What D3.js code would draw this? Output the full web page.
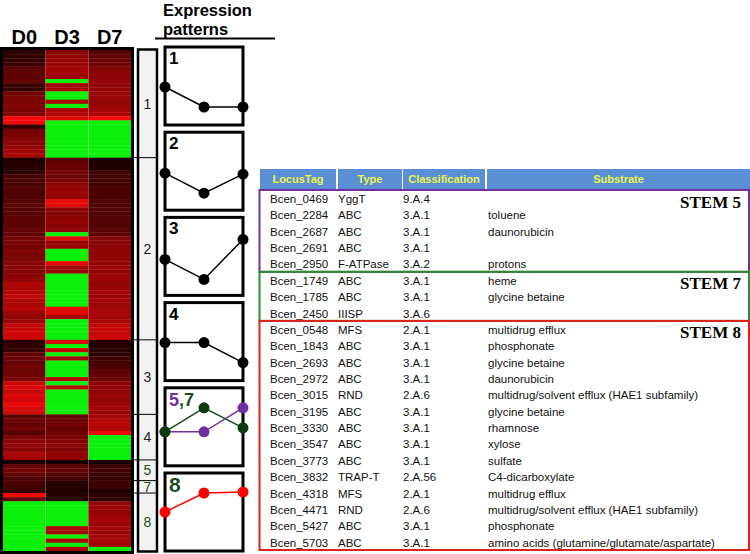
<!DOCTYPE html>
<html>
<head>
<meta charset="utf-8">
<script src="https://cdn.jsdelivr.net/npm/d3@7"></script>
<style>body{margin:0;background:#fff;}</style>
</head>
<body>
<div id="chart"></div>
<script>
// heatmap columns and clusters (row counts per cluster, top to bottom)
const days = ["D0", "D3", "D7"];
const clusterIds = ["1", "2", "3", "4", "5", "7", "8"];
const clusterSizes = [26, 44, 18, 11, 5, 3, 14];

// log-ratio per gene; negative values are drawn green
const heatD0 = [
  // 1
  0.3,0.35,0.4,0.5, 0.9,1.0,0.9,1.0, 0.45,0.4, 1.2,1.3,1.3,1.4,1.3,1.4, 2.9,2.8, 0.35, 1.2,1.3,1.4,1.5,1.6,1.8,1.9,
  // 2
  0.15,0.2,0.25,0.3, 0.6,0.7,0.65,0.8,0.7,0.75,0.8,0.9,0.85,0.8,0.9,0.95,0.9,1.0,1.0,
  1.2,1.3,1.2,1.4,1.3,1.3,1.4,1.5,1.4,1.5,1.6, 2.0,1.9,2.1,2.2,2.0,1.9,2.1, 1.7,1.6,1.7, 2.2,2.3,2.4,2.3,
  // 3
  0.3,0.35,0.4, 1.0,1.1,1.0,1.2,1.1,1.2,1.3, 2.3,2.5,2.2,2.6,2.4,2.7,2.5,2.4,
  // 4
  0.9,1.1,1.0,1.2,0.8,1.3,1.5,1.6,1.4,1.9,1.8,
  // 5
  0.05,1.0,1.2,1.0,0.7,
  // 7
  0.7,0.6,0.4,
  // 8
  2.8,1.0,-2,-2,-2,-2,-2,-2,-2,-2,-2,-2,-2,-2
];
const heatD3 = [
  // 1
  1.5,1.6,1.7,1.7,1.8,1.8,1.7,-2,1.8,1.9,-2,-2,1.9,-2,1.9,2.0,2.6,-2,-2,-2,-2,-2,-2,-2,-2,-2,
  // 2
  0.9,1.0,1.1,1.2,1.1,1.3, 1.6,1.6,1.7,1.6, 2.7,2.6, 1.5,1.4,1.5,1.6,1.5,1.6, -2, 2.6, 1.7, 1.7, -2,-2,-2,
  2.7, 1.8, 1.7, -2,-2,-2,-2,-2,-2,-2,-2, 2.7,2.6, 1.8, -2,-2,-2,-2,-2,
  // 3
  2.5,-2,2.2,-2,1.8,-2,-2,-2,-2,2.0,-2,2.0,-2,-2,-2,-2,-2,-2,
  // 4
  1.0,1.1,1.2,1.0,1.2,1.3,1.4,1.5,1.4,1.6,1.6,
  // 5
  0.05,0.9,1.0,0.8,0.6,
  // 7
  0.2,0.2,0.1,
  // 8
  0.2,0.15,-2,-2,-2,-2,-2,-2,1.9,1.8,-2,1.9,-2,1.9
];
const heatD7 = [
  // 1
  0.8,1.0,1.1,1.2, 1.4,1.5,1.5,1.6,1.6,1.6,1.7,1.7,1.6,1.7,1.8,1.9, 2.9, -2,-2,-2,-2,-2,-2,-2,-2,-2,
  // 2
  0.1,0.1,0.15, 0.5,0.6,0.55,0.6,0.7,0.65,0.7,0.75,0.7,0.8,0.75,0.8,0.85,0.8,0.9,0.9,
  1.4,1.5,1.5,1.6,1.5,1.6,1.6,1.7,1.6,1.7,1.7,1.6,1.7,1.8,1.7,1.8,1.7,1.8,1.9,1.8,1.9, 2.2,2.3,2.2,2.4,
  // 3
  0.2,0.2,0.25,0.3,0.5,0.6,0.7,0.9,1.0,1.1,1.5,1.6,1.5,1.7,1.6,1.7,1.8,1.7,
  // 4
  1.8,2.0,2.1,2.0,2.7,-2,-2,-2,-2,-2,-2,
  // 5
  0.05,0.5,0.6,0.5,0.4,
  // 7
  0.5,0.5,0.1,
  // 8
  0.3,0.3,1.6,1.7,1.6,1.7,1.8,1.7,1.8,1.7,1.8,1.9,1.8,-2
];

// expression pattern profiles (D0, D3, D7)
const panelLabels = ["1", "2", "3", "4", "5,7", "8"];
const pattern1 = [0, -1, -1];
const pattern2 = [-0.05, -1.05, -0.1];
const pattern3 = [-0.1, -1.1, 0.9];
const pattern4 = [0, 0, -1];
const pattern5 = [-0.2, -0.2, 1];
const pattern7 = [-0.2, 1, 0];
const pattern8 = [0.05, 1, 1.05];

// transporter table
const tableHeaders = ["LocusTag", "Type", "Classification", "Substrate"];
const locusTags = ["Bcen_0469","Bcen_2284","Bcen_2687","Bcen_2691","Bcen_2950",
  "Bcen_1749","Bcen_1785","Bcen_2450",
  "Bcen_0548","Bcen_1843","Bcen_2693","Bcen_2972","Bcen_3015","Bcen_3195","Bcen_3330",
  "Bcen_3547","Bcen_3773","Bcen_3832","Bcen_4318","Bcen_4471","Bcen_5427","Bcen_5703"];
const types = ["YggT","ABC","ABC","ABC","F-ATPase",
  "ABC","ABC","IIISP",
  "MFS","ABC","ABC","ABC","RND","ABC","ABC","ABC","ABC","TRAP-T","MFS","RND","ABC","ABC"];
const classes = ["9.A.4","3.A.1","3.A.1","3.A.1","3.A.2",
  "3.A.1","3.A.1","3.A.6",
  "2.A.1","3.A.1","3.A.1","3.A.1","2.A.6","3.A.1","3.A.1","3.A.1","3.A.1","2.A.56","2.A.1","2.A.6","3.A.1","3.A.1"];
const substrates = ["","toluene","daunorubicin","","protons",
  "heme","glycine betaine","",
  "multidrug efflux","phosphonate","glycine betaine","daunorubicin",
  "multidrug/solvent efflux (HAE1 subfamily)","glycine betaine","rhamnose","xylose","sulfate",
  "C4-dicarboxylate","multidrug efflux","multidrug/solvent efflux (HAE1 subfamily)","phosphonate",
  "amino acids (glutamine/glutamate/aspartate)"];
const stemGroups = ["STEM 5", "STEM 7", "STEM 8"];
const stemSizes = [5, 3, 14];

const W = 750, H = 554;
const svg = d3.select("#chart").append("svg")
  .attr("width", W).attr("height", H)
  .style("font-family", "Arial, 'Liberation Sans', sans-serif");

// ---------- heatmap ----------
const nRows = heatD0.length;
const rowY = d3.scaleBand().domain(d3.range(nRows)).range([50, 551]);
const colX = d3.scaleBand().domain(days).range([3, 131]);
const redScale = d3.scaleLinear().domain([0, 3]).range(["#160000", "#ff0a0a"]).clamp(true);
const cellColor = v => v < 0 ? "#0af00a" : redScale(v);
const columns = { D0: heatD0, D3: heatD3, D7: heatD7 };

const cells = [];
days.forEach(d => columns[d].forEach((v, i) => cells.push({ day: d, row: i, v })));

svg.append("g").selectAll("rect")
  .data(cells)
  .join("rect")
  .attr("x", d => colX(d.day))
  .attr("y", d => rowY(d.row))
  .attr("width", colX.bandwidth())
  .attr("height", rowY.bandwidth() + 0.3)
  .attr("fill", d => cellColor(d.v));

// faint column separators
svg.append("g").selectAll("line")
  .data(days.slice(1))
  .join("line")
  .attr("x1", d => colX(d)).attr("x2", d => colX(d))
  .attr("y1", 50).attr("y2", 551)
  .attr("stroke", "#ffffff").attr("stroke-opacity", 0.12).attr("stroke-width", 0.8);

svg.append("rect")
  .attr("x", 1.5).attr("y", 48.5).attr("width", 131).attr("height", 504)
  .attr("fill", "none").attr("stroke", "#000").attr("stroke-width", 3);

svg.append("g").selectAll("text")
  .data(days)
  .join("text")
  .attr("x", d => colX(d) + colX.bandwidth() / 2)
  .attr("y", 44)
  .attr("text-anchor", "middle")
  .attr("font-size", 20).attr("font-weight", "bold")
  .text(d => d);

// ---------- cluster bar ----------
const starts = [];
clusterSizes.reduce((acc, n) => { starts.push(acc); return acc + n; }, 0);
const clusters = clusterIds.map((id, i) => ({
  id,
  top: rowY(starts[i]),
  bottom: rowY(starts[i]) + clusterSizes[i] * rowY.step()
}));

svg.append("rect")
  .attr("x", 138).attr("y", 49.5).attr("width", 19).attr("height", 502)
  .attr("fill", "#f2f2f2").attr("stroke", "#000").attr("stroke-width", 2.5);

svg.append("g").selectAll("line")
  .data(clusters.slice(1))
  .join("line")
  .attr("x1", 131).attr("x2", 157)
  .attr("y1", d => d.top).attr("y2", d => d.top)
  .attr("stroke", "#000").attr("stroke-width", 1);

svg.append("g").selectAll("text")
  .data(clusters)
  .join("text")
  .attr("x", 147.5)
  .attr("y", d => (d.top + d.bottom) / 2 + 5)
  .attr("text-anchor", "middle")
  .attr("font-size", 14)
  .attr("fill", d => ["5", "7", "8"].includes(d.id) ? "#1e4d1e" : "#222")
  .text(d => d.id);

// ---------- expression patterns ----------
svg.append("text").attr("x", 163).attr("y", 15.5)
  .attr("font-size", 16.5).attr("font-weight", "bold").text("Expression");
svg.append("text").attr("x", 163).attr("y", 34.5)
  .attr("font-size", 16.5).attr("font-weight", "bold").text("patterns");
svg.append("line").attr("x1", 155).attr("x2", 275).attr("y1", 38.5).attr("y2", 38.5)
  .attr("stroke", "#000").attr("stroke-width", 2);

const panelSize = 78, panelStep = 85.2, panelTop = 47, panelLeft = 165;
const px = d3.scaleLinear().domain([0, 2]).range([panelLeft, panelLeft + panelSize]);
const py = d3.scaleLinear().domain([-2, 2]).range([80, 0]);

const panelSeries = [
  [{ vals: pattern1, color: "#000" }],
  [{ vals: pattern2, color: "#000" }],
  [{ vals: pattern3, color: "#000" }],
  [{ vals: pattern4, color: "#000" }],
  [{ vals: pattern5, color: "#7030a0" }, { vals: pattern7, color: "#1a4a1a", dot: "#0f3a0f" }],
  [{ vals: pattern8, color: "#ff0000" }]
];

panelLabels.forEach((lab, i) => {
  const top = panelTop + i * panelStep;
  const g = svg.append("g");
  g.append("rect")
    .attr("x", panelLeft).attr("y", top).attr("width", panelSize).attr("height", panelSize)
    .attr("fill", "#fff").attr("stroke", "#000").attr("stroke-width", 3);

  const line = d3.line().x((d, j) => px(j)).y(d => top + py(d));
  panelSeries[i].forEach(s => {
    g.append("path").attr("d", line(s.vals))
      .attr("fill", "none").attr("stroke", s.color).attr("stroke-width", 1.5);
    g.selectAll(null).data(s.vals).join("circle")
      .attr("cx", (d, j) => px(j)).attr("cy", d => top + py(d))
      .attr("r", 5.5).attr("fill", s.dot || s.color);
  });

  const t = g.append("text").attr("x", 169).attr("font-weight", "bold");
  if (lab === "5,7") {
    t.attr("y", top + 18).attr("font-size", 18);
    t.append("tspan").attr("fill", "#7030a0").text("5");
    t.append("tspan").attr("fill", "#1e4d1e").text(",7");
  } else if (lab === "8") {
    t.attr("y", top + 19).attr("font-size", 21).attr("fill", "#1e4d1e").text(lab);
  } else {
    t.attr("y", top + 17).attr("font-size", 17).text(lab);
  }
});

// ---------- table ----------
const colLeft = [260, 338, 403, 487];
const colRight = [336, 402, 485, 750];
const textLeft = [270, 338, 403, 488];

svg.append("g").selectAll("rect")
  .data(tableHeaders)
  .join("rect")
  .attr("x", (d, i) => colLeft[i]).attr("y", 169)
  .attr("width", (d, i) => colRight[i] - colLeft[i]).attr("height", 20)
  .attr("fill", "#5a8fd6");

svg.append("g").selectAll("text")
  .data(tableHeaders)
  .join("text")
  .attr("x", (d, i) => (colLeft[i] + colRight[i]) / 2)
  .attr("y", 183)
  .attr("text-anchor", "middle")
  .attr("font-size", 11).attr("font-weight", "bold")
  .attr("fill", "#ecf54a")
  .text(d => d);

const tRow = d3.scaleBand().domain(d3.range(locusTags.length)).range([190, 550]);
const rows = locusTags.map((tag, i) => [tag, types[i], classes[i], substrates[i]]);

svg.append("g").selectAll("g")
  .data(rows)
  .join("g")
  .each(function(r, i) {
    d3.select(this).selectAll("text").data(r).join("text")
      .attr("x", (d, j) => textLeft[j])
      .attr("y", tRow(i) + 13)
      .attr("font-size", 11.5)
      .attr("fill", "#111")
      .text(d => d);
  });

const stemColors = ["#7030a0", "#2e8b2e", "#e0201a"];
let acc = 0;
stemGroups.forEach((s, i) => {
  const top = tRow(acc);
  const h = stemSizes[i] * tRow.step();
  acc += stemSizes[i];
  svg.append("rect")
    .attr("x", 259.5).attr("y", top).attr("width", 489.5).attr("height", h)
    .attr("fill", "none").attr("stroke", stemColors[i]).attr("stroke-width", 2);
  svg.append("text")
    .attr("x", 741).attr("y", top + 17.5)
    .attr("text-anchor", "end")
    .attr("font-family", "'Liberation Serif', 'Times New Roman', serif")
    .attr("font-size", 17).attr("font-weight", "bold")
    .text(s);
});
</script>
</body>
</html>
